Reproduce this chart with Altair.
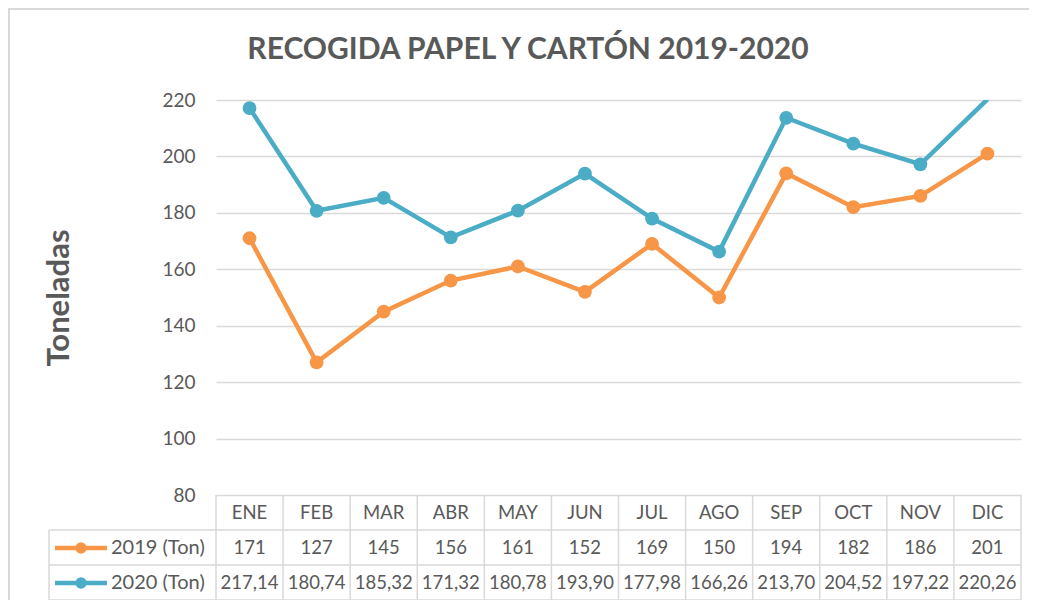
import altair as alt
import pandas as pd

months = ["ENE", "FEB", "MAR", "ABR", "MAY", "JUN", "JUL", "AGO", "SEP", "OCT", "NOV", "DIC"]
v2019 = [171, 127, 145, 156, 161, 152, 169, 150, 194, 182, 186, 201]
v2020 = [217.14, 180.74, 185.32, 171.32, 180.78, 193.90, 177.98, 166.26, 213.70, 204.52, 197.22, 220.26]
series_names = ["2019 (Ton)", "2020 (Ton)"]
series_colors = ["#F79646", "#4BACC6"]
y_ticks = [80, 100, 120, 140, 160, 180, 200, 220]
title_text = "RECOGIDA PAPEL Y CARTÓN 2019-2020"
y_title = "Toneladas"

W, H = 805, 395
FONT = "Lato"
TXT = "#595959"
GRID = "#d9d9d9"
YMIN, YMAX = 80, 220

rows = []
for m, a, b in zip(months, v2019, v2020):
    rows.append({"mes": m, "serie": series_names[0], "valor": a, "etiqueta": str(int(a))})
    rows.append({"mes": m, "serie": series_names[1], "valor": b,
                 "etiqueta": f"{b:.2f}".replace(".", ",")})
df = pd.DataFrame(rows)
one = pd.DataFrame({"k": [0]})

xsc = alt.Scale(type="band", domain=months, paddingInner=0, paddingOuter=0)
ysc = alt.Scale(domain=[YMIN, YMAX], nice=False, zero=False)
csc = alt.Scale(domain=series_names, range=series_colors)

X = alt.X("mes:N", scale=xsc, axis=None, bandPosition=0.5)
Y = alt.Y("valor:Q", scale=ysc,
          axis=alt.Axis(values=y_ticks, grid=True, gridColor=GRID, gridWidth=1.5,
                        domain=False, ticks=False, labelPadding=21, labelFontSize=19,
                        labelColor=TXT, labelFont=FONT, title=y_title, titleFont=FONT,
                        titleFontSize=31, titleFontWeight="bold", titleColor=TXT,
                        titleAngle=-90, titleX=-157, titleY=H / 2,
                        titleAlign="center", titleBaseline="middle"))
C = alt.Color("serie:N", scale=csc, legend=None)

base = alt.Chart(df)
lines = base.mark_line(strokeWidth=4.5, clip=True).encode(x=X, y=Y, color=C, detail="serie:N")
points = base.transform_filter(alt.datum.valor <= YMAX).mark_point(
    filled=True, size=190, opacity=1, clip=True).encode(x=X, y=Y, color=C)

# title as text
title = alt.Chart(one).mark_text(text=title_text, font=FONT, fontSize=30, fontWeight="bold",
                                 color=TXT, align="center", baseline="middle").encode(
    x=alt.value(312), y=alt.value(-50))

# data table
tstyle = dict(fontSize=18.5, font=FONT, color=TXT, baseline="middle")
hdr = alt.Chart(pd.DataFrame({"mes": months})).mark_text(**tstyle).encode(
    x=X, y=alt.value(H + 18), text="mes:N")
t2019 = base.transform_filter(alt.datum.serie == series_names[0]).mark_text(**tstyle).encode(
    x=X, y=alt.value(H + 53), text="etiqueta:N")
t2020 = base.transform_filter(alt.datum.serie == series_names[1]).mark_text(**tstyle).encode(
    x=X, y=alt.value(H + 88), text="etiqueta:N")

vdiv = alt.Chart(pd.DataFrame({"mes": months})).mark_rule(color=GRID, strokeWidth=1.5).encode(
    x=alt.X("mes:N", scale=xsc, axis=None, bandPosition=0),
    y=alt.value(H), y2=alt.value(H + 105))
vright = alt.Chart(one).mark_rule(color=GRID, strokeWidth=1.5).encode(
    x=alt.value(W), y=alt.value(H), y2=alt.value(H + 105))
vleft = alt.Chart(one).mark_rule(color=GRID, strokeWidth=1.5).encode(
    x=alt.value(-167), y=alt.value(H + 35), y2=alt.value(H + 105))
hl = [alt.Chart(one).mark_rule(color=GRID, strokeWidth=1.5).encode(
    x=alt.value(-167), x2=alt.value(W), y=alt.value(H + dy)) for dy in (35, 70, 105)]

# legend keys inside table
keys = []
for name, col, dy in zip(series_names, series_colors, (53, 88)):
    keys.append(alt.Chart(one).mark_rule(strokeWidth=4.5, color=col).encode(
        x=alt.value(-161), x2=alt.value(-109), y=alt.value(H + dy)))
    keys.append(alt.Chart(one).mark_point(filled=True, size=130, opacity=1, color=col).encode(
        x=alt.value(-135), y=alt.value(H + dy)))
    keys.append(alt.Chart(one).mark_text(text=name, align="left", fontSize=20, font=FONT,
                                         color=TXT, baseline="middle").encode(
        x=alt.value(-105), y=alt.value(H + dy)))

# outer chart border
bl = alt.Chart(one).mark_rule(color=GRID, strokeWidth=2).encode(
    x=alt.value(-207), y=alt.value(-92), y2=alt.value(H + 120))
bt = alt.Chart(one).mark_rule(color=GRID, strokeWidth=2).encode(
    x=alt.value(-208), x2=alt.value(W + 40), y=alt.value(-91))

chart = alt.layer(
    lines, points, bl, bt, *hl, vdiv, vright, vleft, hdr, t2019, t2020, *keys, title
).properties(
    width=W, height=H,
    autosize=alt.AutoSizeParams(type="none"),
    padding={"left": 208, "top": 92, "right": 8, "bottom": 105},
).configure_view(stroke=None)

chart.save("out.html", embed_options={"renderer": "svg", "actions": False})
